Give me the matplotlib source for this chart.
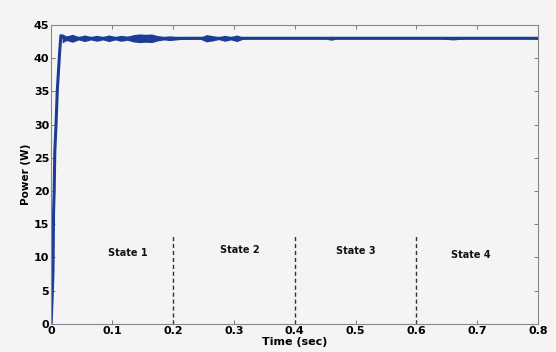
import matplotlib.pyplot as plt

# rise of the PV power
t_rise = [0, 0.002, 0.003, 0.004, 0.005, 0.006, 0.008, 0.010, 0.012, 0.014, 0.016, 0.018, 0.022, 0.8]
p_rise = [0, 5, 8, 17, 20, 26, 30, 35, 38, 41, 43.4, 43.3, 43.0, 43.0]

# ripple band around steady state (half width in W)
t_rip = [0.018, 0.025, 0.035, 0.045, 0.055, 0.065, 0.075, 0.085, 0.095, 0.105, 0.115,
         0.125, 0.135, 0.145, 0.155, 0.165, 0.175, 0.185, 0.195, 0.21, 0.23, 0.245,
         0.255, 0.265, 0.275, 0.285, 0.295, 0.305, 0.315, 0.33, 0.45, 0.46, 0.47,
         0.64, 0.66, 0.68, 0.79, 0.8]
r_rip = [0.7, 0.35, 0.6, 0.25, 0.5, 0.25, 0.45, 0.25, 0.5, 0.25, 0.45,
         0.3, 0.55, 0.65, 0.6, 0.65, 0.4, 0.25, 0.35, 0.2, 0.15, 0.15,
         0.55, 0.4, 0.2, 0.45, 0.25, 0.5, 0.15, 0.1, 0.1, 0.3, 0.1,
         0.1, 0.25, 0.1, 0.1, 0.2]
p_ss = 43.0

states = ["State 1", "State 2", "State 3", "State 4"]
state_x = [0.126, 0.31, 0.50, 0.69]
state_y = [10.7, 11.1, 11.0, 10.4]
bounds = [0.2, 0.4, 0.6]
bound_top = 13.2

bg = "#f4f4f4"
blue = "#1c3c96"

fig = plt.figure(figsize=(5.56, 3.52), dpi=100, facecolor=bg)
ax = fig.add_axes([0.092, 0.080, 0.876, 0.849], facecolor=bg)

ax.plot(t_rise, p_rise, color=blue, lw=2.2, solid_joinstyle="round")
ax.fill_between(t_rip, [p_ss - r for r in r_rip], [p_ss + r for r in r_rip],
                color=blue, lw=0)

for b in bounds:
    ax.plot([b, b], [0, bound_top], color="#333333", ls=(0, (3, 2)), lw=1.0)

for s, x, y in zip(states, state_x, state_y):
    ax.text(x, y, s, ha="center", va="center", fontsize=7, fontweight="bold", color="#111111")

ax.set_xlim(0, 0.8)
ax.set_ylim(0, 45)
ax.set_xticks([0, 0.1, 0.2, 0.3, 0.4, 0.5, 0.6, 0.7, 0.8])
ax.set_xticklabels(["0", "0.1", "0.2", "0.3", "0.4", "0.5", "0.6", "0.7", "0.8"])
ax.set_yticks(range(0, 46, 5))
ax.tick_params(direction="in", top=True, right=True, length=3, width=0.6,
               color="#666666", labelsize=8, pad=1.5)
for lbl in ax.get_xticklabels() + ax.get_yticklabels():
    lbl.set_fontweight("bold")
for sp in ax.spines.values():
    sp.set_color("#888888")
    sp.set_linewidth(0.8)

ax.set_xlabel("Time (sec)", fontsize=8, fontweight="bold", labelpad=1)
ax.set_ylabel("Power (W)", fontsize=7.5, fontweight="bold", labelpad=2)

fig.savefig("out.png", dpi=100, facecolor=bg)
